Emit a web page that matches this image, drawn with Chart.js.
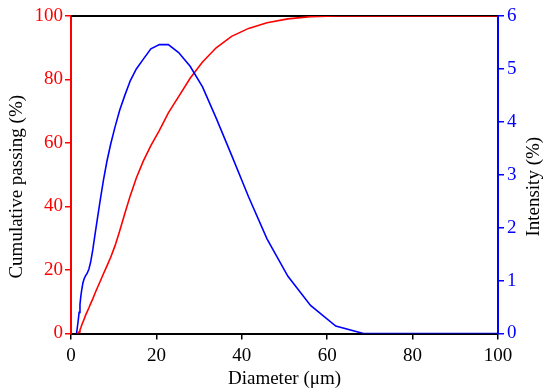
<!DOCTYPE html>
<html>
<head>
<meta charset="utf-8">
<title>Particle size distribution</title>
<script src="https://cdn.jsdelivr.net/npm/chart.js@4/dist/chart.umd.min.js"></script>
<style>
  html, body { margin: 0; padding: 0; background: #fff; }
  #wrap { width: 550px; height: 392px; }
</style>
</head>
<body>
<div id="wrap"><canvas id="myChart" width="550" height="392"></canvas></div>
<script>
// values
var diameters = [1.3, 1.7, 1.9, 2.1, 2.3, 2.5, 2.8, 3.1, 3.4, 3.8, 4.2, 4.6, 5.1, 5.6, 6.2, 6.9, 7.6, 8.4, 9.3, 10.3,
    11.4, 12.6, 13.9, 15.3, 16.9, 18.7, 20.7, 22.8, 25.2, 27.9, 30.8, 34.0, 37.6, 41.6, 45.9, 50.8, 56.1, 62.0, 68.5,
    75.7, 83.7, 92.5, 100];
var intensity = [0, 0.25, 0.4, 0.55, 0.7, 0.82, 0.96, 1.04, 1.09, 1.14, 1.22, 1.35, 1.58, 1.86, 2.18, 2.55, 2.9, 3.25, 3.58, 3.9,
    4.22, 4.5, 4.78, 5.0, 5.18, 5.38, 5.46, 5.46, 5.31, 5.05, 4.66, 4.07, 3.37, 2.58, 1.79, 1.08, 0.53, 0.14, 0,
    0, 0, 0, 0];
var cumulative = [0, 0.1, 0.5, 1.1, 1.8, 2.6, 3.6, 4.6, 5.7, 6.9, 8.1, 9.4, 10.9, 12.6, 14.5, 16.6, 18.8, 21.2, 24.0, 27.6,
    32.3, 37.8, 43.5, 49.0, 54.2, 59.2, 64.0, 69.5, 74.6, 80.4, 85.5, 90.0, 93.6, 96.1, 97.9, 99.1, 99.8, 100, 100,
    100, 100, 100, 100];
var xTicks = [0, 20, 40, 60, 80, 100];
var leftTicks = [0, 20, 40, 60, 80, 100];
var rightTicks = [0, 1, 2, 3, 4, 5, 6];

var FONT = 'Liberation Serif';

function toPoints(xs, ys) {
    var out = [];
    for (var i = 0; i < xs.length; i++) out.push({ x: xs[i], y: ys[i] });
    return out;
}

// top frame line and the three axis titles
var decor = {
    id: 'decor',
    beforeDatasetsDraw: function (chart) {
        var ctx = chart.ctx, a = chart.chartArea;
        ctx.save();
        ctx.strokeStyle = '#000';
        ctx.lineWidth = 2;
        ctx.beginPath();
        ctx.moveTo(a.left, a.top);
        ctx.lineTo(a.right, a.top);
        ctx.stroke();
        ctx.restore();
    },
    afterDraw: function (chart) {
        var ctx = chart.ctx, a = chart.chartArea;
        var midY = (a.top + a.bottom) / 2 + 12;
        ctx.save();
        ctx.fillStyle = '#000';
        ctx.font = '19px "' + FONT + '"';
        ctx.textAlign = 'center';
        ctx.textBaseline = 'alphabetic';
        ctx.fillText('Diameter (\u03bcm)', (a.left + a.right) / 2, a.bottom + 50);

        ctx.textBaseline = 'middle';
        ctx.save();
        ctx.translate(17.5, midY);
        ctx.rotate(-Math.PI / 2);
        ctx.fillText('Cumulative passing (%)', 0, 0);
        ctx.restore();

        ctx.save();
        ctx.translate(a.right + 36, midY);
        ctx.rotate(-Math.PI / 2);
        ctx.fillText('Intensity (%)', 0, 0);
        ctx.restore();
        ctx.restore();
    }
};

function fixedTicks(list) {
    return function (scale) {
        scale.ticks = list.map(function (v) { return { value: v }; });
    };
}

var ctx = document.getElementById('myChart');
new Chart(ctx, {
    type: 'line',
    data: {
        datasets: [{
            label: 'Intensity',
            data: toPoints(diameters, intensity),
            yAxisID: 'y1',
            borderColor: '#0000ff',
            borderWidth: 1.6,
            pointRadius: 0,
            tension: 0,
            fill: false
        }, {
            label: 'Cumulative passing',
            data: toPoints(diameters, cumulative),
            yAxisID: 'y',
            borderColor: '#ff0000',
            borderWidth: 1.6,
            pointRadius: 0,
            tension: 0,
            fill: false
        }]
    },
    options: {
        responsive: false,
        animation: false,
        events: [],
        layout: { padding: { top: 16, left: 0, right: 0, bottom: 0 } },
        plugins: {
            legend: { display: false },
            tooltip: { enabled: false }
        },
        scales: {
            x: {
                type: 'linear',
                min: 0,
                max: 100,
                afterBuildTicks: fixedTicks(xTicks),
                afterFit: function (s) { s.height = 58.5; },
                border: { color: '#000', width: 2 },
                grid: { drawOnChartArea: false, drawTicks: true, tickLength: 6, color: '#000', lineWidth: 1.5 },
                ticks: { color: '#000', padding: 5, font: { family: FONT, size: 19 } }
            },
            y: {
                position: 'left',
                min: 0,
                max: 100,
                afterBuildTicks: fixedTicks(leftTicks),
                afterFit: function (s) { s.width = 71; },
                border: { color: '#ff0000', width: 2 },
                grid: { drawOnChartArea: false, drawTicks: true, tickLength: 6, color: '#ff0000', lineWidth: 1.5 },
                ticks: { color: '#ff0000', padding: 2, font: { family: FONT, size: 19 } }
            },
            y1: {
                position: 'right',
                min: 0,
                max: 6,
                afterBuildTicks: fixedTicks(rightTicks),
                afterFit: function (s) { s.width = 52; },
                border: { color: '#0000ff', width: 2 },
                grid: { drawOnChartArea: false, drawTicks: true, tickLength: 6, color: '#0000ff', lineWidth: 1.5 },
                ticks: { color: '#0000ff', padding: 3, font: { family: FONT, size: 19 } }
            }
        }
    },
    plugins: [decor]
});
</script>
</body>
</html>
